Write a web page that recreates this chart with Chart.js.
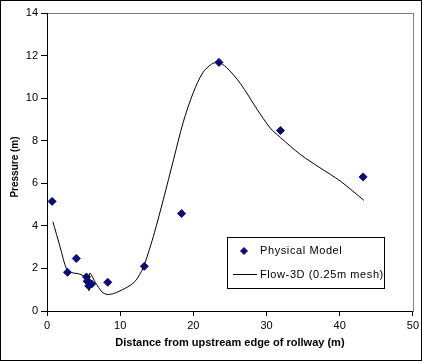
<!DOCTYPE html>
<html>
<head>
<meta charset="UTF-8" />
<style>
  html, body { margin: 0; padding: 0; background: #fff; }
  #wrap { width: 422px; height: 361px; position: relative; }
</style>
<script src="https://cdn.jsdelivr.net/npm/chart.js"></script>
</head>
<body>
<div id="wrap"><canvas id="chart" width="422" height="361"></canvas></div>
<script>
// Physical model measurements
const modelX = [0.7, 2.8, 4.0, 5.4, 5.5, 5.7, 5.9, 6.1, 8.3, 13.3, 18.4, 23.5, 31.9, 43.2];
const modelY = [5.15, 1.82, 2.47, 1.6, 1.4, 1.18, 1.3, 1.27, 1.35, 2.1, 4.58, 11.68, 8.48, 6.3];

// Flow-3D (0.25m mesh) profile
const flowX = [0.8, 1.8, 2.7, 3.4, 4.3, 5.0, 5.6, 5.75, 5.85, 6.6, 7.5, 8.2, 9.1, 10.7, 12.0, 13.1, 14.0, 14.7,
  15.9, 17.3, 18.6, 20.0, 21.3, 22.5, 23.4, 24.5, 26.4, 28.7, 30.5, 31.9, 34.6, 37.3, 40.1, 43.3];
const flowY = [4.2, 3.0, 1.95, 1.8, 1.75, 1.65, 1.45, 0.95, 1.78, 1.35, 0.9, 0.78, 0.82, 1.07, 1.38, 2.0, 2.9, 3.7,
  5.24, 7.12, 8.85, 10.27, 11.2, 11.6, 11.68, 11.45, 10.7, 9.48, 8.6, 8.15, 7.36, 6.73, 6.1, 5.2];

const xTicks = [0, 10, 20, 30, 40, 50];
const yTicks = [0, 2, 4, 6, 8, 10, 12, 14];

const seriesNames = ["Physical Model", "Flow-3D (0.25m mesh)"];
const yTitle = "Pressure (m)";
const navy = "#0a0a78";
const fontFamily = "'Liberation Sans', Arial, sans-serif";

const framePlugin = {
  id: "frame",
  beforeDraw(chart) {
    const { ctx, chartArea: a } = chart;
    ctx.save();
    ctx.fillStyle = "#fff";
    ctx.fillRect(0, 0, chart.width, chart.height);
    ctx.strokeStyle = "#808080";
    ctx.lineWidth = 1;
    ctx.strokeRect(Math.round(a.left) + 0.5, Math.round(a.top) + 0.5,
      Math.round(a.right - a.left), Math.round(a.bottom - a.top));
    ctx.restore();
  },
  afterDraw(chart) {
    const ctx = chart.ctx;
    ctx.save();
    // outer border
    ctx.strokeStyle = "#000";
    ctx.lineWidth = 1;
    ctx.strokeRect(0.5, 0.5, chart.width - 1, chart.height - 1);

    // y axis title (sits a little below the plot's middle, as in the original)
    ctx.save();
    ctx.translate(15, 167);
    ctx.rotate(-Math.PI / 2);
    ctx.fillStyle = "#000";
    ctx.font = "bold 10px " + fontFamily;
    ctx.textAlign = "center";
    ctx.textBaseline = "middle";
    ctx.fillText(yTitle, 0, 0);
    ctx.restore();

    // legend box
    const bx = 227, by = 237, bw = 157, bh = 51;
    ctx.fillStyle = "#fff";
    ctx.fillRect(bx, by, bw, bh);
    ctx.strokeRect(bx + 0.5, by + 0.5, bw, bh);

    ctx.fillStyle = navy;
    ctx.strokeStyle = navy;
    Chart.helpers.drawPoint(ctx, { pointStyle: "rectRot", radius: 3.5, borderWidth: 1 }, 244, 251);

    ctx.strokeStyle = "#000";
    ctx.beginPath();
    ctx.moveTo(233, 274.5);
    ctx.lineTo(257, 274.5);
    ctx.stroke();

    ctx.fillStyle = "#000";
    ctx.font = "11px " + fontFamily;
    ctx.letterSpacing = "0.6px";
    ctx.textBaseline = "middle";
    ctx.fillText(seriesNames[0], 260, 251);
    ctx.fillText(seriesNames[1], 260, 275);
    ctx.restore();
  }
};

new Chart(document.getElementById("chart"), {
  type: "scatter",
  data: {
    datasets: [
      {
        label: seriesNames[1],
        data: flowX.map((x, i) => ({ x: x, y: flowY[i] })),
        showLine: true,
        borderColor: "#000",
        borderWidth: 1,
        pointRadius: 0,
        tension: 0.3,
        order: 2
      },
      {
        label: seriesNames[0],
        data: modelX.map((x, i) => ({ x: x, y: modelY[i] })),
        pointStyle: "rectRot",
        pointRadius: 4,
        backgroundColor: navy,
        borderColor: navy,
        borderWidth: 1,
        order: 1
      }
    ]
  },
  options: {
    responsive: false,
    animation: false,
    devicePixelRatio: 1,
    layout: { padding: { top: 13, right: 9, bottom: 0, left: 0 } },
    plugins: { legend: { display: false }, tooltip: { enabled: false } },
    scales: {
      x: {
        type: "linear",
        min: 0,
        max: 50,
        afterBuildTicks(scale) { scale.ticks = xTicks.map(v => ({ value: v })); },
        afterFit(scale) { scale.height = 50; },
        grid: { display: true, drawOnChartArea: false, drawTicks: true, tickLength: 5, color: "#000" },
        border: { color: "#000", width: 1 },
        ticks: { color: "#000", font: { family: fontFamily, size: 11 }, padding: 3, maxRotation: 0 },
        title: {
          display: true,
          text: "Distance from upstream edge of rollway (m)",
          color: "#000",
          font: { family: fontFamily, size: 11, weight: "bold" },
          padding: { top: 0, bottom: 11 }
        }
      },
      y: {
        min: 0,
        max: 14,
        afterBuildTicks(scale) { scale.ticks = yTicks.map(v => ({ value: v })); },
        afterFit(scale) { scale.width = 47; },
        grid: { display: true, drawOnChartArea: false, drawTicks: true, tickLength: 6, color: "#000" },
        border: { color: "#000", width: 1 },
        ticks: { color: "#000", font: { family: fontFamily, size: 11 }, padding: 3 },
        title: { display: false }
      }
    }
  },
  plugins: [framePlugin]
});
</script>
</body>
</html>
